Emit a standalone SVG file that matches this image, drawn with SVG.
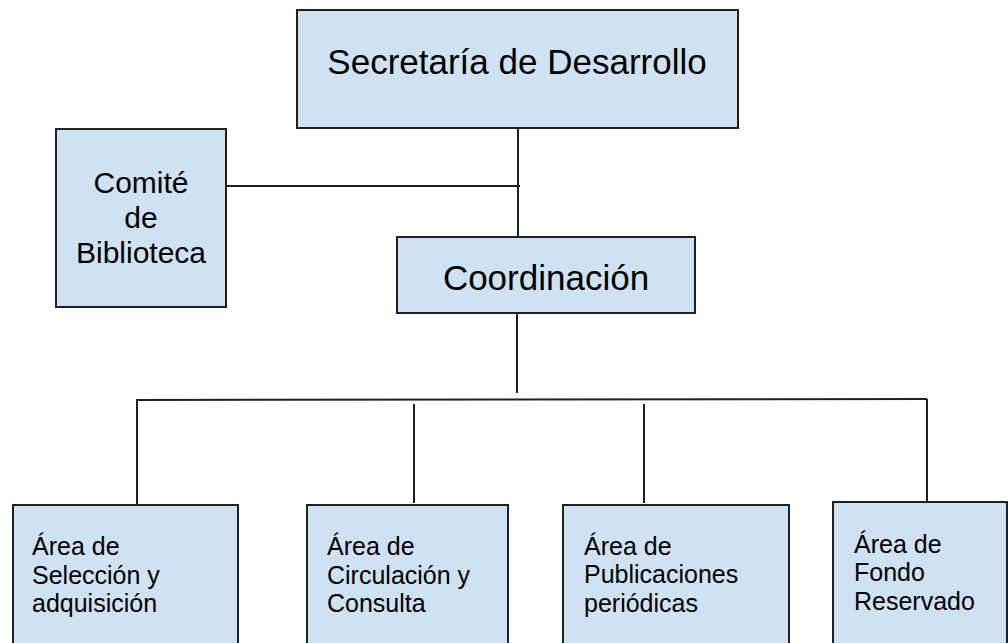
<svg xmlns="http://www.w3.org/2000/svg" width="1008" height="643" viewBox="0 0 1008 643">
<style>
.box{fill:#cfe2f3;stroke:#202020;stroke-width:2}
.ln{stroke:#202020;stroke-width:2;fill:none}
text{font-family:"Liberation Sans",Arial,sans-serif;fill:#000}
.big{font-size:35px;text-anchor:middle}
.mid{font-size:30px;text-anchor:middle}
.sm{font-size:25px}
</style>
<rect width="1008" height="643" fill="#fff"/>
<g id="connectors">
<line class="ln" x1="518" y1="128" x2="518" y2="238"/>
<line class="ln" x1="226" y1="186" x2="520" y2="186"/>
<line class="ln" x1="517" y1="313" x2="517" y2="393"/>
<line class="ln" x1="136" y1="400" x2="927" y2="399"/>
<line class="ln" x1="137" y1="400" x2="137" y2="505"/>
<line class="ln" x1="414" y1="404" x2="414" y2="503"/>
<line class="ln" x1="644" y1="404" x2="644" y2="503"/>
<line class="ln" x1="927" y1="399" x2="927" y2="502"/>
</g>
<g id="secretaria">
<rect class="box" x="297" y="10" width="441" height="118"/>
<text class="big" x="517" y="74">Secretaría de Desarrollo</text>
</g>
<g id="comite">
<rect class="box" x="56" y="129" width="170" height="178"/>
<text class="mid" x="141" y="193">Comité</text>
<text class="mid" x="141" y="228">de</text>
<text class="mid" x="141" y="263">Biblioteca</text>
</g>
<g id="coordinacion">
<rect class="box" x="397" y="237" width="298" height="76"/>
<text class="big" x="546" y="290">Coordinación</text>
</g>
<g id="seleccion">
<rect class="box" x="13" y="505" width="225" height="150"/>
<text class="sm" x="32" y="555">Área de</text>
<text class="sm" x="32" y="584">Selección y</text>
<text class="sm" x="32" y="612">adquisición</text>
</g>
<g id="circulacion">
<rect class="box" x="307" y="505" width="201" height="150"/>
<text class="sm" x="327" y="555">Área de</text>
<text class="sm" x="327" y="584">Circulación y</text>
<text class="sm" x="327" y="612">Consulta</text>
</g>
<g id="publicaciones">
<rect class="box" x="563" y="505" width="226" height="150"/>
<text class="sm" x="584" y="555">Área de</text>
<text class="sm" x="584" y="583">Publicaciones</text>
<text class="sm" x="584" y="612">periódicas</text>
</g>
<g id="fondo">
<rect class="box" x="833" y="502" width="174" height="150"/>
<text class="sm" x="854" y="553">Área de</text>
<text class="sm" x="854" y="581">Fondo</text>
<text class="sm" x="854" y="610">Reservado</text>
</g>
</svg>
